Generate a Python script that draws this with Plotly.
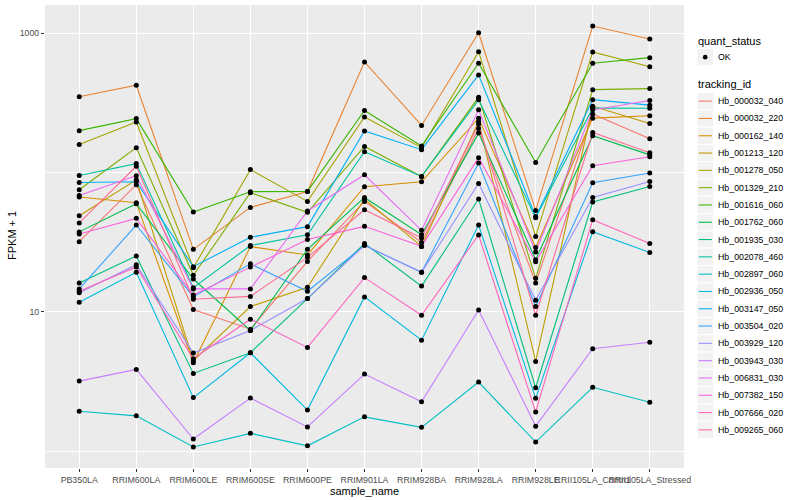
import plotly.graph_objects as go

# ---- data ----
samples = ["PB350LA", "RRIM600LA", "RRIM600LE", "RRIM600SE", "RRIM600PE", "RRIM901LA",
           "RRIM928BA", "RRIM928LA", "RRIM928LE", "RRII105LA_Control", "RRII105LA_Stressed"]

tracking_ids = ["Hb_000032_040", "Hb_000032_220", "Hb_000162_140", "Hb_001213_120", "Hb_001278_050",
                "Hb_001329_210", "Hb_001616_060", "Hb_001762_060", "Hb_001935_030", "Hb_002078_460",
                "Hb_002897_060", "Hb_002936_050", "Hb_003147_050", "Hb_003504_020", "Hb_003929_120",
                "Hb_003943_030", "Hb_006831_030", "Hb_007382_150", "Hb_007666_020", "Hb_009265_060"]

hb_000032_040 = [31.9, 81.8, 10.4, 7.5, 23.0, 62.1, 31.5, 207, 16.1, 263, 175]
hb_000032_220 = [350, 424, 28.1, 56.2, 73.2, 623, 218, 1010, 53.5, 1128, 910]
hb_000162_140 = [66.7, 60.8, 4.31, 29.4, 25.6, 79.1, 85.9, 246, 29.0, 246, 256]
hb_001213_120 = [49.0, 88.8, 4.45, 10.9, 15.0, 64.6, 29.5, 233, 4.40, 300, 225]
hb_001278_050 = [159, 231, 20.7, 105, 62.1, 251, 151, 738, 34.8, 735, 576]
hb_001329_210 = [75.3, 151, 18.3, 71.7, 51.8, 154, 93.8, 348, 17.4, 394, 401]
hb_001616_060 = [200, 244, 52.1, 72.9, 73.2, 279, 155, 610, 118, 610, 669]
hb_001762_060 = [37.5, 59.7, 17.2, 7.34, 28.1, 66.3, 35.8, 192, 23.7, 184, 134]
hb_001935_030 = [16.1, 25.2, 3.61, 5.08, 12.45, 30.9, 15.3, 64.6, 2.85, 61.4, 79.5]
hb_002078_460 = [95.3, 116, 14.9, 29.9, 35.8, 141, 93.8, 333, 47.4, 291, 290]
hb_002897_060 = [1.93, 1.79, 1.07, 1.34, 1.09, 1.76, 1.48, 3.13, 1.16, 2.87, 2.24]
hb_002936_050 = [11.7, 19.2, 2.42, 5.08, 1.97, 12.8, 6.26, 42.0, 2.39, 37.6, 26.7]
hb_003147_050 = [84.9, 85.9, 21.1, 34.3, 40.9, 199, 146, 503, 48.4, 334, 305]
hb_003504_020 = [14.6, 42.0, 12.8, 22.1, 14.05, 30.0, 19.2, 117, 10.9, 84.5, 99.2]
hb_003929_120 = [13.7, 21.8, 5.05, 7.34, 12.45, 30.0, 19.2, 83.5, 12.1, 66.3, 86.4]
hb_003943_030 = [3.18, 3.86, 1.22, 2.40, 1.49, 3.57, 2.26, 10.3, 1.51, 5.43, 6.05]
hb_006831_030 = [68.5, 94.9, 14.6, 14.6, 53.0, 96.4, 38.5, 282, 26.9, 282, 329]
hb_007382_150 = [36.2, 46.9, 13.2, 21.0, 33.1, 41.1, 29.5, 128, 22.9, 112, 130]
hb_007666_020 = [14.05, 21.0, 4.60, 8.85, 5.55, 17.6, 9.45, 35.6, 1.91, 45.9, 31.0]
hb_009265_060 = [43.5, 111, 12.3, 12.9, 24.6, 54.1, 33.9, 223, 9.45, 194, 139]

series = [hb_000032_040, hb_000032_220, hb_000162_140, hb_001213_120, hb_001278_050,
          hb_001329_210, hb_001616_060, hb_001762_060, hb_001935_030, hb_002078_460,
          hb_002897_060, hb_002936_050, hb_003147_050, hb_003504_020, hb_003929_120,
          hb_003943_030, hb_006831_030, hb_007382_150, hb_007666_020, hb_009265_060]

colors = ["#F8766D", "#EA8331", "#D89000", "#C09B00", "#A3A500", "#7CAE00", "#39B600", "#00BB4E",
          "#00BF7D", "#00C1A3", "#00BFC4", "#00BAE0", "#00B0F6", "#35A2FF", "#9590FF", "#C77CFF",
          "#E76BF3", "#FA62DB", "#FF62BC", "#FF6C91"]

quant_status = ["OK"]

FONT = "Liberation Sans, Arial, Helvetica, sans-serif"

# ---- figure ----
fig = go.Figure()
for name, vals, col in zip(tracking_ids, series, colors):
    fig.add_trace(go.Scatter(x=samples, y=vals, mode="lines", name=name,
                             line=dict(color=col, width=1.1), showlegend=False))
for name, vals in zip(tracking_ids, series):
    fig.add_trace(go.Scatter(x=samples, y=vals, mode="markers", name=name,
                             marker=dict(color="black", size=5), showlegend=False))

# plot area in pixels
W, H = 800, 500
L, R, T, B = 45, 684, 5, 468


def xp(px):
    return (px - L) / (R - L)


def yp(py):
    return (B - py) / (B - T)


shapes = []
annotations = []

# axis titles
annotations.append(dict(x=xp(364), y=yp(491), xref="paper", yref="paper", text="sample_name",
                        showarrow=False, xanchor="center", yanchor="middle",
                        font=dict(size=11, color="black", family=FONT)))
annotations.append(dict(x=xp(12), y=yp(236), xref="paper", yref="paper", text="FPKM + 1",
                        showarrow=False, xanchor="center", yanchor="middle", textangle=-90,
                        font=dict(size=11, color="black", family=FONT)))

# legend: quant_status
annotations.append(dict(x=xp(696), y=yp(41), xref="paper", yref="paper", text="quant_status",
                        showarrow=False, xanchor="left", yanchor="middle",
                        font=dict(size=11, color="black", family=FONT)))
key_w, key_h = 16.5, 17.3
y0 = 48.5
shapes.append(dict(type="rect", xref="paper", yref="paper", x0=xp(697), x1=xp(697 + key_w),
                   y0=yp(y0), y1=yp(y0 + key_h), fillcolor="#F2F2F2", line=dict(color="white", width=1)))
cx, cy0, r = 705.2, y0 + key_h / 2, 2.3
shapes.append(dict(type="circle", xref="paper", yref="paper", x0=xp(cx - r), x1=xp(cx + r),
                   y0=yp(cy0 - r), y1=yp(cy0 + r), fillcolor="black", line=dict(color="black", width=0)))
annotations.append(dict(x=xp(716), y=yp(cy0), xref="paper", yref="paper", text=quant_status[0],
                        showarrow=False, xanchor="left", yanchor="middle",
                        font=dict(size=8.8, color="black", family=FONT)))

# legend: tracking_id
annotations.append(dict(x=xp(696), y=yp(84.5), xref="paper", yref="paper", text="tracking_id",
                        showarrow=False, xanchor="left", yanchor="middle",
                        font=dict(size=11, color="black", family=FONT)))
start = 92.5
for i, (name, col) in enumerate(zip(tracking_ids, colors)):
    top = start + i * key_h
    cy = top + key_h / 2
    shapes.append(dict(type="rect", xref="paper", yref="paper", x0=xp(697), x1=xp(697 + key_w),
                       y0=yp(top), y1=yp(top + key_h), fillcolor="#F2F2F2",
                       line=dict(color="white", width=1)))
    shapes.append(dict(type="line", xref="paper", yref="paper", x0=xp(698.8), x1=xp(711.8),
                       y0=yp(cy), y1=yp(cy), line=dict(color=col, width=1.1)))
    annotations.append(dict(x=xp(716), y=yp(cy), xref="paper", yref="paper", text=name,
                            showarrow=False, xanchor="left", yanchor="middle",
                            font=dict(size=8.8, color="black", family=FONT)))

fig.update_layout(
    width=W, height=H,
    margin=dict(l=L, r=W - R, t=T, b=H - B, autoexpand=False),
    paper_bgcolor="white", plot_bgcolor="#EBEBEB",
    font=dict(family=FONT, size=11, color="black"),
    showlegend=False,
    xaxis=dict(type="category", categoryorder="array", categoryarray=samples,
               range=[-0.6, len(samples) - 0.4], automargin=False,
               showgrid=True, gridcolor="white", gridwidth=1.1, zeroline=False, showline=False,
               ticks="outside", ticklen=3, tickwidth=1, tickcolor="#333333", tickangle=0,
               tickfont=dict(size=8.8, color="#4D4D4D", family=FONT)),
    yaxis=dict(type="log", range=[-0.1217, 3.2034], tickvals=[10, 1000], ticktext=["10", "1000"],
               automargin=False,
               showgrid=True, gridcolor="white", gridwidth=1.1, zeroline=False, showline=False,
               ticks="outside", ticklen=3, tickwidth=1, tickcolor="#333333",
               tickfont=dict(size=8.8, color="#4D4D4D", family=FONT),
               minor=dict(tickvals=[1, 100], showgrid=True, gridcolor="white", gridwidth=0.55, ticks="")),
    shapes=shapes,
    annotations=annotations,
)

fig.write_html("out.html", config={"displayModeBar": False},
               post_script="document.body.style.margin='0';document.body.style.padding='0';")
